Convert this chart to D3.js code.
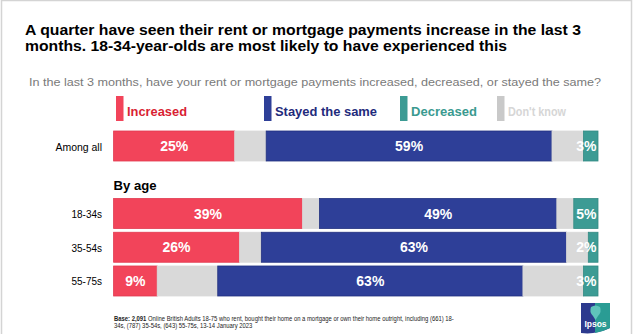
<!DOCTYPE html>
<html><head><meta charset="utf-8">
<script src="https://cdn.jsdelivr.net/npm/d3@7"></script>
<style>body{margin:0;background:#fff}svg{display:block;font-family:"Liberation Sans",Arial,sans-serif}</style>
</head><body>
<svg id="c" width="634" height="334"></svg>
<script>
const categories = ["Among all", "18-34s", "35-54s", "55-75s"];
const increased = [25, 39, 26, 9];
const stayedSame = [59, 49, 63, 63];
const decreased = [3, 5, 2, 3];
const dontKnow = [13, 7, 9, 25];
const seriesNames = ["Increased", "Stayed the same", "Decreased", "Don't know"];
const titleLines = ["A quarter have seen their rent or mortgage payments increase in the last 3",
                    "months. 18-34-year-olds are most likely to have experienced this"];
const subtitle = "In the last 3 months, have your rent or mortgage payments increased, decreased, or stayed the same?";
const footerBold = "Base: 2,091";
const footerLines = ["Online British Adults 18-75 who rent, bought their home on a mortgage or own their home outright, including (661) 18-",
                     "34s, (787) 35-54s, (643) 55-75s, 13-14 January 2023"];

const svg = d3.select("#c");
const colors = {inc:"#f2445a", dkL:"#d9d9d9", stay:"#2e3f98", dkR:"#d9d9d9", dec:"#3c9b94"};
const strokes = {inc:"#e23a50", dkL:"#d9d9d9", stay:"#22317f", dkR:"#d9d9d9", dec:"#338a83"};

// border
svg.append("rect").attr("x",1.5).attr("y",0.5).attr("width",630).attr("height",340)
  .attr("fill","none").attr("stroke","#d4d4d4").attr("stroke-width",1.5);

function txt(x,y,s,o){
  const t = svg.append("text").attr("x",x).attr("y",y).text(s)
    .attr("font-size",o.size).attr("fill",o.fill||"#000")
    .attr("font-weight",o.bold?"bold":"normal");
  if(o.anchor) t.attr("text-anchor",o.anchor);
  if(o.len) t.attr("textLength",o.len).attr("lengthAdjust","spacingAndGlyphs");
  return t;
}
// title
txt(25,35,titleLines[0],{size:15.5,bold:true,len:556});
txt(25,51,titleLines[1],{size:15.5,bold:true,len:482});
// subtitle
txt(29,85.5,subtitle,{size:11.5,fill:"#7a7a7a",len:572});

// legend
const legendX = [116, 264, 400, 497];
const legendLen = [60, 102, 66, 58];
const legendSw = ["#f2445a","#2e3f98","#3c9b94","#c9c9c9"];
const legendTx = ["#d91f33","#1f2b7c","#3a9a90","#d6d6d6"];
seriesNames.forEach((n,i)=>{
  svg.append("rect").attr("x",legendX[i]).attr("y",96).attr("width",7.5).attr("height",25).attr("fill",legendSw[i]);
  txt(legendX[i]+11,115.5,n,{size:13,bold:true,fill:legendTx[i],len:legendLen[i]});
});

// data table
const rows = categories.map((c,i)=>({cat:c, inc:increased[i], dkL:dontKnow[i]/2, stay:stayedSame[i], dkR:dontKnow[i]/2, dec:decreased[i]}));
const keys = ["inc","dkL","stay","dkR","dec"];
const stack = d3.stack().keys(keys)(rows);

const x = d3.scaleLinear().domain([0,100]).range([113.6,598]);
const y = d3.scaleBand().domain([categories[0],"__gap",...categories.slice(1)]).range([131,296]).paddingInner(0.111).paddingOuter(0);

const g = svg.append("g");
stack.forEach(layer=>{
  g.selectAll(null).data(layer).enter().append("rect")
    .attr("x",d=>x(d[0])).attr("y",d=>y(d.data.cat))
    .attr("width",d=>Math.max(0,x(d[1])-x(d[0]))).attr("height",y.bandwidth())
    .attr("fill",colors[layer.key]).attr("stroke",strokes[layer.key]).attr("stroke-width",0.8);
});
// value labels
const labelKeys = ["inc","stay","dec"];
stack.filter(l=>labelKeys.includes(l.key)).forEach(layer=>{
  g.selectAll(null).data(layer).enter().append("text")
    .attr("x",d=> layer.key==="dec" ? x(d[1])-1.5 : (x(d[0])+x(d[1]))/2)
    .attr("y",d=>y(d.data.cat)+y.bandwidth()/2+5)
    .attr("text-anchor",layer.key==="dec"?"end":"middle")
    .attr("font-size",14).attr("font-weight","bold").attr("fill","#fff")
    .text(d=>Math.round(d.data[layer.key])+"%");
});
// category labels
const catLen = {"Among all":46.5,"18-34s":30.5,"35-54s":30.5,"55-75s":30.5};
categories.forEach(c=>{
  txt(102,y(c)+y.bandwidth()/2+4.5,c,{size:11.5,anchor:"end",len:catLen[c]});
});
// By age
txt(113.5,189.5,"By age",{size:13.5,bold:true,len:43});

// footer: one text per line, horizontally scaled to the reference width
const fg = svg.append("g");
const f1 = fg.append("text").attr("x",0).attr("y",0).attr("font-size",6.5).attr("fill","#222");
f1.append("tspan").attr("font-weight","bold").text(footerBold + " ");
f1.append("tspan").text(footerLines[0]);
const f2 = fg.append("text").attr("x",0).attr("y",7.5).attr("font-size",6.5).attr("fill","#222").text(footerLines[1]);
const w1 = f1.node().getComputedTextLength();
const sx = 341 / w1;
fg.attr("transform",`translate(114,321) scale(${sx},1)`);

// logo
const lg = svg.append("g").attr("transform","translate(581,303)");
lg.append("path").attr("d","M0,0 H29 V25 Q14.5,32 0,30 Z").attr("fill","#2c3a8e");
lg.append("path").attr("d","M14,0 H29 V25 Q21,29 14,30 Z").attr("fill","#2a9c94");
lg.append("path").attr("d","M10,4 Q14.5,1 19,4 Q21,9 17,13 L14.5,17 L12,13 Q8,9 10,4 Z").attr("fill","#5fc3bb");
lg.append("text").attr("x",14.5).attr("y",24).attr("text-anchor","middle").attr("font-size",8.5)
  .attr("font-weight","bold").attr("fill","#fff").text("Ipsos");
</script>
</body></html>
